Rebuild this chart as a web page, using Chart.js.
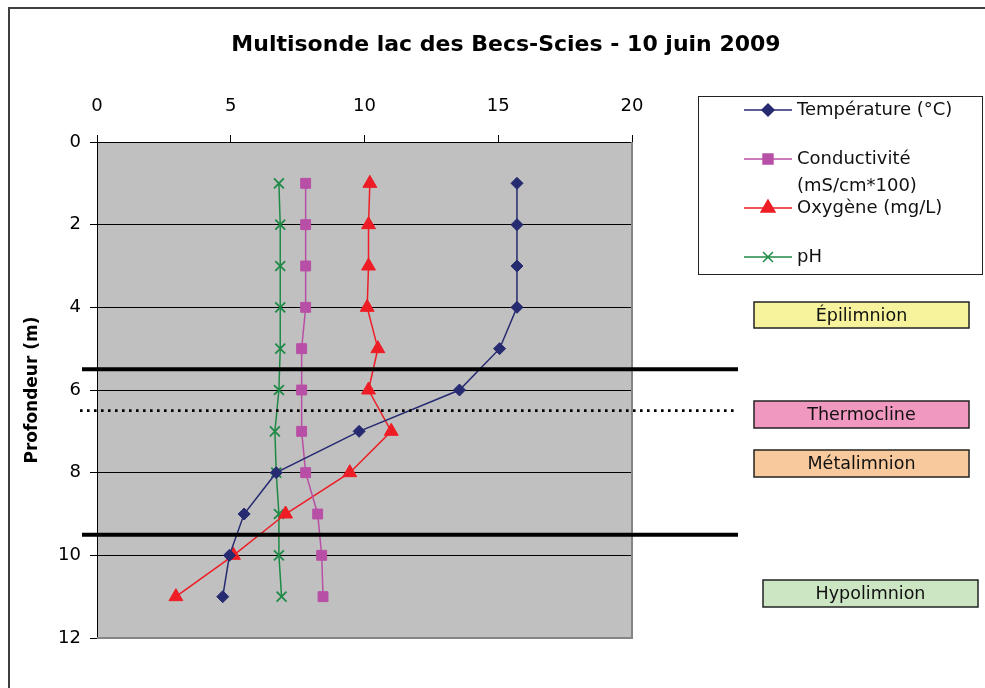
<!DOCTYPE html>
<html>
<head>
<meta charset="utf-8">
<script src="https://cdn.jsdelivr.net/npm/chart.js@4.4.1/dist/chart.umd.min.js"></script>
<style>
  html, body { margin: 0; padding: 0; background: #fff; }
  #wrap { width: 985px; height: 688px; position: relative; }
</style>
</head>
<body>
<div id="wrap"><canvas id="c" width="985" height="688"></canvas></div>
<script>
// depth profile, values
const depths = [1, 2, 3, 4, 5, 6, 7, 8, 9, 10, 11];
const temperature = [15.7, 15.7, 15.7, 15.7, 15.05, 13.55, 9.8, 6.7, 5.5, 4.95, 4.7];
const conductivity = [7.8, 7.8, 7.8, 7.8, 7.65, 7.65, 7.65, 7.8, 8.25, 8.4, 8.45];
const oxygen = [10.2, 10.15, 10.15, 10.1, 10.5, 10.15, 11.0, 9.45, 7.05, 5.1, 2.95];
const ph = [6.8, 6.85, 6.85, 6.85, 6.85, 6.8, 6.65, 6.7, 6.8, 6.8, 6.9];

const xTicks = [0, 5, 10, 15, 20];
const yTicks = [0, 2, 4, 6, 8, 10, 12];

// zone limits (m)
const solidLimits = [5.5, 9.5];
const dottedLimits = [6.5];
const zoneNames = ['Épilimnion', 'Thermocline', 'Métalimnion', 'Hypolimnion'];
const zoneColors = ['#F6F39C', '#F198C0', '#F8C99C', '#CCE5C3'];

const TITLE = 'Multisonde lac des Becs-Scies - 10 juin 2009';
const FONT = '"DejaVu Sans", sans-serif';

function pts(vals) {
  return vals.map((v, i) => ({ x: v, y: depths[i] }));
}

function series(label, vals, color, style, radius) {
  return {
    label: label,
    data: pts(vals),
    borderColor: color,
    backgroundColor: color,
    pointBackgroundColor: color,
    pointBorderColor: color,
    pointStyle: style,
    pointRadius: radius,
    pointHoverRadius: radius,
    pointBorderWidth: style === 'crossRot' ? 1.8 : 1,
    borderWidth: 1.5,
    tension: 0,
    fill: false
  };
}

const datasets = [
  series('Température (°C)', temperature, '#262A70', 'rectRot', 6),
  series('Conductivité|(mS/cm*100)', conductivity, '#B84FA6', 'rect', 7),
  series('Oxygène (mg/L)', oxygen, '#EE1D25', 'triangle', 8),
  series('pH', ph, '#1E8A46', 'crossRot', 7)
];

const decor = {
  id: 'decor',
  beforeDraw(chart) {
    const ctx = chart.ctx, a = chart.chartArea;
    ctx.save();
    ctx.fillStyle = '#C0C0C0';
    ctx.fillRect(a.left, a.top, a.right - a.left, a.bottom - a.top);
    // outer frame
    ctx.strokeStyle = '#404040';
    ctx.lineWidth = 2;
    ctx.strokeRect(9, 8, 1000, 700);
    // title
    ctx.fillStyle = '#000';
    ctx.font = 'bold 22px ' + FONT;
    ctx.textAlign = 'center';
    ctx.textBaseline = 'middle';
    ctx.fillText(TITLE, 506, 45);
    ctx.restore();
  },
  afterDatasetsDraw(chart) {
    const ctx = chart.ctx, a = chart.chartArea, y = chart.scales.y;
    ctx.save();
    // plot frame right / bottom
    ctx.strokeStyle = '#858585';
    ctx.lineWidth = 2;
    ctx.beginPath();
    ctx.moveTo(a.right, a.top);
    ctx.lineTo(a.right, a.bottom);
    ctx.lineTo(a.left, a.bottom);
    ctx.stroke();

    // layer limits
    ctx.strokeStyle = '#000';
    ctx.lineWidth = 4;
    solidLimits.forEach(d => {
      const py = y.getPixelForValue(d);
      ctx.beginPath();
      ctx.moveTo(82, py);
      ctx.lineTo(738, py);
      ctx.stroke();
    });
    ctx.lineWidth = 2.6;
    ctx.setLineDash([2.6, 4.4]);
    dottedLimits.forEach(d => {
      const py = y.getPixelForValue(d);
      ctx.beginPath();
      ctx.moveTo(80, py);
      ctx.lineTo(738, py);
      ctx.stroke();
    });
    ctx.setLineDash([]);

    // zone labels
    const boxes = [[754, 302, 215, 26], [754, 401, 215, 27], [754, 450, 215, 27], [763, 580, 215, 27]];
    ctx.font = '17.5px ' + FONT;
    ctx.textAlign = 'center';
    ctx.textBaseline = 'middle';
    boxes.forEach((b, i) => {
      ctx.fillStyle = zoneColors[i];
      ctx.fillRect(b[0], b[1], b[2], b[3]);
      ctx.strokeStyle = '#222';
      ctx.lineWidth = 1.5;
      ctx.strokeRect(b[0], b[1], b[2], b[3]);
      ctx.fillStyle = '#111';
      ctx.fillText(zoneNames[i], b[0] + b[2] / 2, b[1] + b[3] / 2 + 1);
    });

    // legend
    ctx.fillStyle = '#fff';
    ctx.fillRect(698, 96, 284, 178);
    ctx.strokeStyle = '#222';
    ctx.lineWidth = 1;
    ctx.strokeRect(698.5, 96.5, 284, 178);
    const rows = [110, 159, 208, 257];
    ctx.textAlign = 'left';
    ctx.font = '18px ' + FONT;
    chart.data.datasets.forEach((ds, i) => {
      const ry = rows[i];
      ctx.strokeStyle = ds.borderColor;
      ctx.lineWidth = 1.5;
      ctx.beginPath();
      ctx.moveTo(744, ry);
      ctx.lineTo(792, ry);
      ctx.stroke();
      ctx.fillStyle = ds.backgroundColor;
      Chart.helpers.drawPoint(ctx, {
        pointStyle: ds.pointStyle, radius: ds.pointRadius, borderWidth: ds.pointBorderWidth, rotation: 0
      }, 768, ry);
      ctx.fillStyle = '#111';
      ds.label.split('|').forEach((t, k) => ctx.fillText(t, 797, ry + k * 27));
    });
    ctx.restore();
  }
};

new Chart(document.getElementById('c'), {
  type: 'line',
  data: { datasets: datasets },
  options: {
    responsive: false,
    animation: false,
    layout: { padding: { left: 0, right: 353, top: 0, bottom: 50 } },
    plugins: {
      legend: { display: false },
      tooltip: { enabled: false },
      title: { display: false }
    },
    scales: {
      x: {
        type: 'linear',
        position: 'top',
        min: 0, max: 20,
        afterBuildTicks: s => { s.ticks = xTicks.map(v => ({ value: v })); },
        afterFit: s => { s.height = 142; },
        ticks: { color: '#000', font: { family: FONT, size: 18 }, padding: 18 },
        grid: { drawOnChartArea: false, tickLength: 7, color: '#000', tickColor: '#000' },
        border: { color: '#000', width: 1 }
      },
      y: {
        type: 'linear',
        reverse: true,
        min: 0, max: 12,
        afterBuildTicks: s => { s.ticks = yTicks.map(v => ({ value: v })); },
        afterFit: s => { s.width = 97; },
        ticks: { color: '#000', font: { family: FONT, size: 18 }, padding: 9 },
        grid: {
          tickLength: 7,
          tickColor: '#000',
          lineWidth: 1,
          color: c => (c.tick && (c.tick.value === 0 || c.tick.value === 12)) ? 'rgba(0,0,0,0)' : '#000'
        },
        border: { color: '#000', width: 1 },
        title: {
          display: true,
          text: 'Profondeur (m)',
          color: '#000',
          font: { family: FONT, size: 17, weight: 'bold' },
          padding: { top: 22, bottom: 0 }
        }
      }
    }
  },
  plugins: [decor]
});
</script>
</body>
</html>
